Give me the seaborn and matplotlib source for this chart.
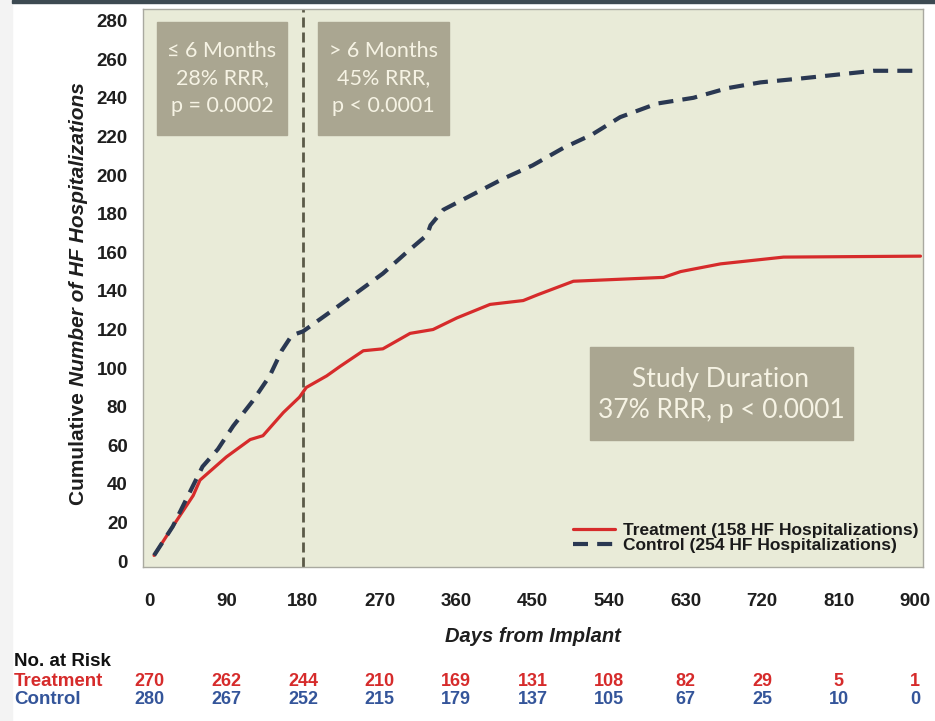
import matplotlib
matplotlib.use("Agg")
import matplotlib.pyplot as plt
from matplotlib.patches import Rectangle
import numpy as np
import pandas as pd
import seaborn as sns

# Cumulative HF hospitalizations by group (days from implant, count)
treatment_days = [5, 27, 51, 59, 90, 118, 133, 157, 176, 184, 208, 224, 251, 274, 306,
                  333, 361, 400, 439, 456, 498, 604, 624, 671, 745, 906]
treatment_events = [3, 18, 34, 42, 54, 63, 65, 77, 85, 90, 96, 101, 109, 110, 118,
                    120, 126, 133, 135, 138, 145, 147, 150, 154, 157.5, 158]

control_days = [5, 27, 62, 80, 98, 121, 141, 155, 167, 180, 215, 243, 274, 302, 326,
                330, 345, 380, 415, 450, 486, 520, 553, 596, 639, 679, 718, 765, 808,
                851, 906]
control_events = [3, 18, 49, 58, 70, 83, 96, 109, 117, 119, 130, 139, 149, 160, 169,
                  174, 182, 190, 198, 205, 214, 221, 230, 237, 240, 245, 248, 250, 252,
                  254, 254]

x_ticks = [0, 90, 180, 270, 360, 450, 540, 630, 720, 810, 900]
y_ticks = list(range(0, 281, 20))

risk_treatment = [270, 262, 244, 210, 169, 131, 108, 82, 29, 5, 1]
risk_control = [280, 267, 252, 215, 179, 137, 105, 67, 25, 10, 0]

labels = ["Treatment (158 HF Hospitalizations)", "Control (254 HF Hospitalizations)"]
period_boxes = ["\u2264 6 Months\n28% RRR,\np = 0.0002",
                "> 6 Months\n45% RRR,\np < 0.0001"]
overall_box = "Study Duration\n37% RRR, p < 0.0001"

RED = "#d62b2b"
NAVY = "#2a3852"
RISK_BLUE = "#34559a"
PANEL = "#e9ebd8"
BOX = "#aaa691"
BOX_TEXT = "#f6f3e4"
INK = "#1e1e1e"

sns.set_theme(style="white")
plt.rcParams["font.family"] = ["Liberation Sans", "DejaVu Sans"]

W, H = 935, 721
fig = plt.figure(figsize=(W / 100, H / 100), dpi=100, facecolor="white")


def fx(px):
    return px / W


def fy(py):
    return 1 - py / H


# page edge decorations
fig.patches.append(Rectangle((0, 0), fx(12), 1, transform=fig.transFigure,
                             color="#f3f3f3", zorder=0))
fig.patches.append(Rectangle((fx(12), fy(3)), 1, fy(0) - fy(3),
                             transform=fig.transFigure, color="#3d4a52", zorder=0))

ax = fig.add_axes([fx(143), fy(567), fx(923) - fx(143), fy(9) - fy(567)])
ax.set_facecolor(PANEL)

df_t = pd.DataFrame({"day": treatment_days, "events": treatment_events})
df_c = pd.DataFrame({"day": control_days, "events": control_events})

sns.lineplot(data=df_t, x="day", y="events", ax=ax, color=RED, lw=2.3,
             label=labels[0], estimator=None, sort=True)
sns.lineplot(data=df_c, x="day", y="events", ax=ax, color=NAVY, lw=3.0,
             label=labels[1], estimator=None, sort=True)
ax.lines[1].set_dashes([3.6, 2.2])

ax.axvline(180, color="#5b5a48", lw=2.0, dashes=[3.6, 1.8], zorder=1)

ax.set_xlim(-8, 909)
ax.set_ylim(-3, 286)
ax.set_xticks(x_ticks)
ax.set_yticks(y_ticks)
ax.set_xlabel("")
ax.set_ylabel("")
ax.tick_params(axis="both", which="major", length=4, width=0.8, color="#9a9a9a",
               labelsize=13.5, labelcolor=INK, direction="out")
ax.tick_params(axis="x", pad=15)
ax.tick_params(axis="y", pad=7)
for lab in ax.get_xticklabels() + ax.get_yticklabels():
    lab.set_fontweight("bold")
for sp in ax.spines.values():
    sp.set_color("#a9a9a0")
    sp.set_linewidth(1.0)

leg = ax.legend(loc="lower right", bbox_to_anchor=(1.012, 0.0), frameon=False,
                handlelength=2.4, handletextpad=0.45, labelspacing=0.0,
                borderpad=0.3,
                prop={"family": ["Liberation Sans Narrow", "Liberation Sans"],
                      "weight": "bold", "size": 12.5})
for t in leg.get_texts():
    t.set_color("#1a1a1a")

# annotation boxes
box_specs = [
    (157, 22, 130, 113, period_boxes[0]),
    (318, 22, 131, 113, period_boxes[1]),
]
for x0, y0, w, h, txt in box_specs:
    fig.patches.append(Rectangle((fx(x0), fy(y0 + h)), fx(w), fy(0) - fy(h),
                                 transform=fig.transFigure, color=BOX, zorder=3))
    fig.text(fx(x0 + w / 2), fy(y0 + h / 2), txt, ha="center", va="center",
             color=BOX_TEXT, fontsize=15.5, family=["Lato", "DejaVu Sans"],
             linespacing=1.45, zorder=4)

fig.patches.append(Rectangle((fx(590), fy(440)), fx(263), fy(0) - fy(93),
                             transform=fig.transFigure, color=BOX, zorder=3))
fig.text(fx(721), fy(395), overall_box, ha="center", va="center", color=BOX_TEXT,
         fontsize=19, family=["Lato", "DejaVu Sans"], linespacing=1.3, zorder=4)

# axis titles
fig.text(fx(533), fy(636), "Days from Implant", ha="center", va="center",
         fontsize=14.5, fontweight="bold", fontstyle="italic", color=INK)

renderer = fig.canvas.get_renderer()
ylab_a = fig.text(fx(79), fy(505), "Cumulative ", rotation=90, ha="center",
                  va="bottom", fontsize=15, fontweight="bold", color=INK)
ext = ylab_a.get_window_extent(renderer)
fig.text(fx(79), ext.y1 / H, "Number of HF Hospitalizations", rotation=90,
         ha="center", va="bottom", fontsize=15, fontweight="bold",
         fontstyle="italic", color=INK)

# number-at-risk table
fig.text(fx(14), fy(661), "No. at Risk", ha="left", va="center", fontsize=13.5,
         fontweight="bold", color="#111111")
fig.text(fx(14), fy(681), "Treatment", ha="left", va="center", fontsize=13.5,
         fontweight="bold", color=RED)
fig.text(fx(14), fy(699), "Control", ha="left", va="center", fontsize=13.5,
         fontweight="bold", color=RISK_BLUE)
trans = matplotlib.transforms.blended_transform_factory(ax.transData, fig.transFigure)
for xv, nt, nc in zip(x_ticks, risk_treatment, risk_control):
    ax.text(xv, fy(681), str(nt), transform=trans, ha="center", va="center",
            fontsize=13, fontweight="bold", color=RED, clip_on=False)
    ax.text(xv, fy(699), str(nc), transform=trans, ha="center", va="center",
            fontsize=13, fontweight="bold", color=RISK_BLUE, clip_on=False)

fig.savefig("out.png", dpi=100, facecolor="white")
